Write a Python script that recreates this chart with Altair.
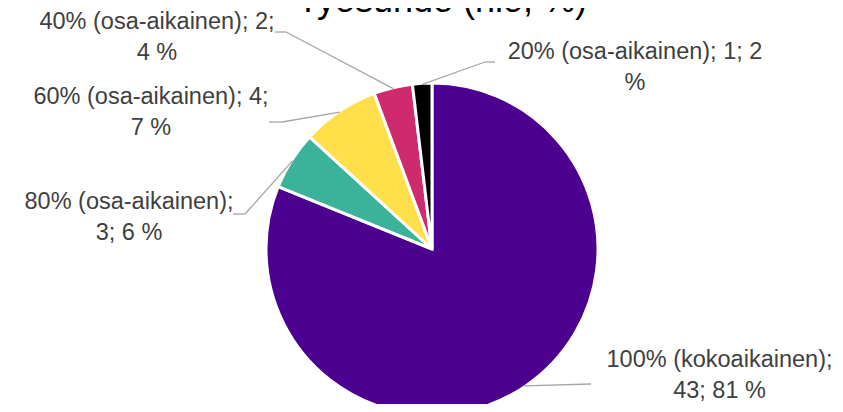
import altair as alt
import pandas as pd

# ---- data ----
TITLE = "Työsuhde (hlö, %)"
CATEGORIES = [
    "100% (kokoaikainen)",
    "80% (osa-aikainen)",
    "60% (osa-aikainen)",
    "40% (osa-aikainen)",
    "20% (osa-aikainen)",
]
COUNTS = [43, 3, 4, 2, 1]
PERCENTS = ["81 %", "6 %", "7 %", "4 %", "2 %"]
LABELS = [
    "100% (kokoaikainen);\n43; 81 %",
    "80% (osa-aikainen);\n3; 6 %",
    "60% (osa-aikainen); 4;\n7 %",
    "40% (osa-aikainen); 2;\n4 %",
    "20% (osa-aikainen); 1; 2\n%",
]

# ---- styles / layout ----
COLORS = ["#4B008F", "#3BB39A", "#FFE04A", "#D02A6E", "#000000"]
CX, CY, R = 424, 241, 165
LABEL_X = [711.5, 121, 143, 149, 627]
LABEL_Y = [352, 194, 89, 14, 44]
ELBOW_X = [583, 237, 274, 278, 477]
ELBOW_Y = [376, 206, 114, 24, 54]
END_X = [583, 225, 261, 267, 487]
END_Y = [376, 206, 114, 24, 54]

df = pd.DataFrame({
    "category": CATEGORIES,
    "count": COUNTS,
    "label": LABELS,
    "order": list(range(len(CATEGORIES))),
    "lx": LABEL_X, "ly": LABEL_Y,
    "ex": ELBOW_X, "ey": ELBOW_Y,
    "tx": END_X, "ty": END_Y,
})

FONT = "Liberation Sans"

pie = alt.Chart(df).mark_arc(radius=R + 1, stroke="white", strokeWidth=3).encode(
    theta=alt.Theta("count:Q", stack=True),
    color=alt.Color("category:N", scale=alt.Scale(domain=CATEGORIES, range=COLORS), legend=None),
    order=alt.Order("order:Q"),
    x=alt.value(CX),
    y=alt.value(CY),
)

leader_base = alt.Chart(df).transform_joinaggregate(
    total="sum(count)"
).transform_window(
    cum="sum(count)", sort=[alt.SortField("order")], frame=[None, 0]
).transform_calculate(
    mid="datum.cum - datum.count/2",
    ang="2*PI*datum.mid/datum.total",
    sx=f"{CX}+{R}*sin(datum.ang)",
    sy=f"{CY}-{R}*cos(datum.ang)",
)

seg1 = leader_base.mark_rule(color="#A6A6A6", strokeWidth=1.3).encode(
    x=alt.X("sx:Q", scale=None, axis=None),
    y=alt.Y("sy:Q", scale=None, axis=None),
    x2="ex:Q",
    y2="ey:Q",
)
seg2 = alt.Chart(df).mark_rule(color="#A6A6A6", strokeWidth=1.3).encode(
    x=alt.X("ex:Q", scale=None, axis=None),
    y=alt.Y("ey:Q", scale=None, axis=None),
    x2="tx:Q",
    y2="ty:Q",
)

labels = alt.Chart(df).mark_text(
    font=FONT, fontSize=23.5, lineHeight=31, lineBreak="\n",
    color="#404040", align="center", baseline="middle",
).encode(
    x=alt.X("lx:Q", scale=None, axis=None),
    y=alt.Y("ly:Q", scale=None, axis=None),
    text="label:N",
)

title = alt.Chart(pd.DataFrame({"t": [TITLE]})).mark_text(
    font=FONT, fontSize=36, color="#000000", align="center", baseline="alphabetic",
).encode(
    x=alt.value(434),
    y=alt.value(4),
    text="t:N",
)

chart = alt.layer(pie, seg1, seg2, labels, title).properties(
    width=827, height=396, autosize="none", padding=0,
).configure_view(stroke=None)

chart.save("out.html", embed_options={"renderer": "svg", "actions": False})
